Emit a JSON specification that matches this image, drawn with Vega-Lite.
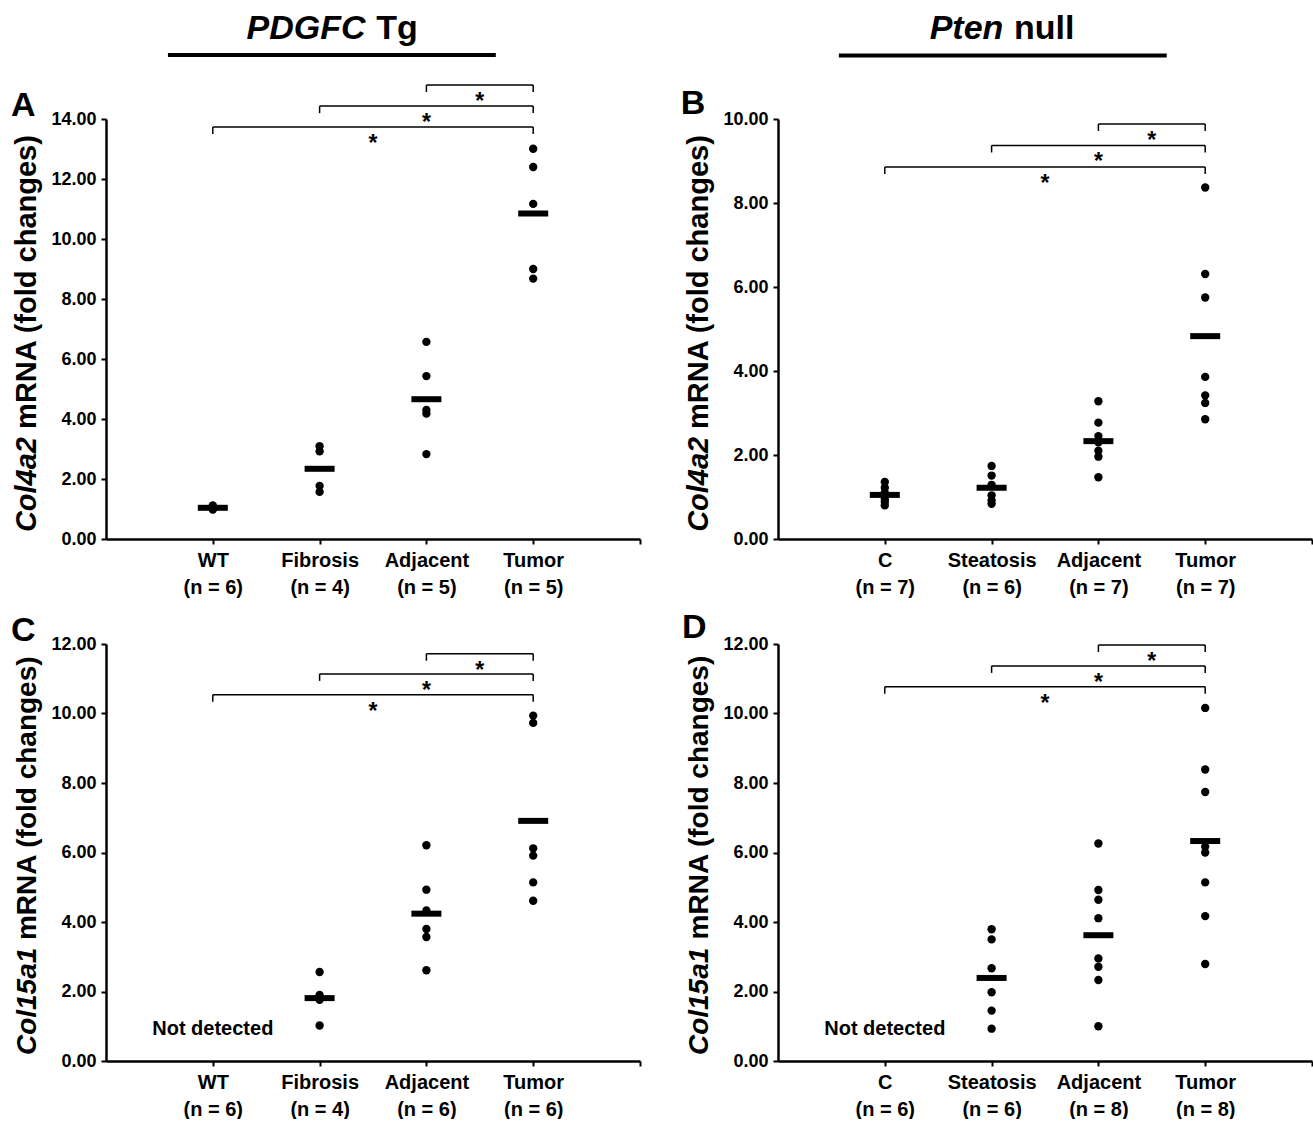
{
  "$schema": "https://vega.github.io/schema/vega-lite/v6.json",
  "background": "white",
  "padding": {"left": 10, "top": 11, "right": 0, "bottom": 0},
  "columns": 2,
  "spacing": {"row": 105, "column": 138},
  "bounds": "flush",
  "datasets": {
    "points": [
      {"p":"A","x":1,"y":1.12},{"p":"A","x":1,"y":1.08},{"p":"A","x":1,"y":1.05},{"p":"A","x":1,"y":1.02},{"p":"A","x":1,"y":1.0},{"p":"A","x":1,"y":0.98},
      {"p":"A","x":2,"y":3.09},{"p":"A","x":2,"y":2.92},{"p":"A","x":2,"y":1.77},{"p":"A","x":2,"y":1.57},
      {"p":"A","x":3,"y":6.57},{"p":"A","x":3,"y":5.43},{"p":"A","x":3,"y":4.3},{"p":"A","x":3,"y":4.18},{"p":"A","x":3,"y":2.83},
      {"p":"A","x":4,"y":13.01},{"p":"A","x":4,"y":12.4},{"p":"A","x":4,"y":11.17},{"p":"A","x":4,"y":9.0},{"p":"A","x":4,"y":8.68},
      {"p":"B","x":1,"y":1.36},{"p":"B","x":1,"y":1.22},{"p":"B","x":1,"y":1.1},{"p":"B","x":1,"y":1.02},{"p":"B","x":1,"y":0.95},{"p":"B","x":1,"y":0.88},{"p":"B","x":1,"y":0.8},
      {"p":"B","x":2,"y":1.74},{"p":"B","x":2,"y":1.51},{"p":"B","x":2,"y":1.29},{"p":"B","x":2,"y":1.04},{"p":"B","x":2,"y":0.92},{"p":"B","x":2,"y":0.84},
      {"p":"B","x":3,"y":3.28},{"p":"B","x":3,"y":2.77},{"p":"B","x":3,"y":2.45},{"p":"B","x":3,"y":2.3},{"p":"B","x":3,"y":2.1},{"p":"B","x":3,"y":1.96},{"p":"B","x":3,"y":1.47},
      {"p":"B","x":4,"y":8.37},{"p":"B","x":4,"y":6.31},{"p":"B","x":4,"y":5.75},{"p":"B","x":4,"y":3.86},{"p":"B","x":4,"y":3.42},{"p":"B","x":4,"y":3.24},{"p":"B","x":4,"y":2.85},
      {"p":"C","x":2,"y":2.56},{"p":"C","x":2,"y":1.9},{"p":"C","x":2,"y":1.76},{"p":"C","x":2,"y":1.02},
      {"p":"C","x":3,"y":6.21},{"p":"C","x":3,"y":4.93},{"p":"C","x":3,"y":4.33},{"p":"C","x":3,"y":3.8},{"p":"C","x":3,"y":3.57},{"p":"C","x":3,"y":2.61},
      {"p":"C","x":4,"y":9.94},{"p":"C","x":4,"y":9.73},{"p":"C","x":4,"y":6.12},{"p":"C","x":4,"y":5.91},{"p":"C","x":4,"y":5.14},{"p":"C","x":4,"y":4.61},
      {"p":"D","x":2,"y":3.79},{"p":"D","x":2,"y":3.5},{"p":"D","x":2,"y":2.67},{"p":"D","x":2,"y":1.98},{"p":"D","x":2,"y":1.45},{"p":"D","x":2,"y":0.93},
      {"p":"D","x":3,"y":6.26},{"p":"D","x":3,"y":4.92},{"p":"D","x":3,"y":4.64},{"p":"D","x":3,"y":4.11},{"p":"D","x":3,"y":2.95},{"p":"D","x":3,"y":2.71},{"p":"D","x":3,"y":2.33},{"p":"D","x":3,"y":1.0},
      {"p":"D","x":4,"y":10.16},{"p":"D","x":4,"y":8.39},{"p":"D","x":4,"y":7.74},{"p":"D","x":4,"y":6.17},{"p":"D","x":4,"y":6.0},{"p":"D","x":4,"y":5.14},{"p":"D","x":4,"y":4.17},{"p":"D","x":4,"y":2.79}
    ],
    "means": [
      {"p":"A","x":1,"y":1.04},{"p":"A","x":2,"y":2.34},{"p":"A","x":3,"y":4.66},{"p":"A","x":4,"y":10.85},
      {"p":"B","x":1,"y":1.05},{"p":"B","x":2,"y":1.22},{"p":"B","x":3,"y":2.33},{"p":"B","x":4,"y":4.83},
      {"p":"C","x":2,"y":1.81},{"p":"C","x":3,"y":4.24},{"p":"C","x":4,"y":6.91},
      {"p":"D","x":2,"y":2.39},{"p":"D","x":3,"y":3.62},{"p":"D","x":4,"y":6.33}
    ],
    "brackets": [
      {"p":"A","x":3,"x2":4,"y":15.13,"sx":3.5},{"p":"A","x":2,"x2":4,"y":14.43,"sx":3.0},{"p":"A","x":1,"x2":4,"y":13.73,"sx":2.5},
      {"p":"B","x":3,"x2":4,"y":9.88,"sx":3.5},{"p":"B","x":2,"x2":4,"y":9.37,"sx":3.0},{"p":"B","x":1,"x2":4,"y":8.86,"sx":2.5},
      {"p":"C","x":3,"x2":4,"y":11.72,"sx":3.5},{"p":"C","x":2,"x2":4,"y":11.14,"sx":3.0},{"p":"C","x":1,"x2":4,"y":10.54,"sx":2.5},
      {"p":"D","x":3,"x2":4,"y":11.97,"sx":3.5},{"p":"D","x":2,"x2":4,"y":11.37,"sx":3.0},{"p":"D","x":1,"x2":4,"y":10.77,"sx":2.5}
    ],
    "notes": [
      {"p":"A","part":"letter","x":-0.89,"y":14.1,"text":"A"},
      {"p":"B","part":"letter","x":-0.91,"y":10.12,"text":"B"},
      {"p":"C","part":"letter","x":-0.89,"y":12.09,"text":"C"},
      {"p":"D","part":"letter","x":-0.9,"y":12.18,"text":"D"},
      {"p":"A","part":"ytit","x":-0.66,"y":0.23,"text":"Col4a2"},
      {"p":"B","part":"ytit","x":-0.66,"y":0.17,"text":"Col4a2"},
      {"p":"C","part":"ytit","x":-0.66,"y":0.17,"text":"Col15a1"},
      {"p":"D","part":"ytit","x":-0.66,"y":0.17,"text":"Col15a1"},
      {"p":"A","part":"ytrm","x":-0.66,"y":3.67,"text":"mRNA (fold changes)"},
      {"p":"B","part":"ytrm","x":-0.66,"y":2.62,"text":"mRNA (fold changes)"},
      {"p":"C","part":"ytrm","x":-0.66,"y":3.48,"text":"mRNA (fold changes)"},
      {"p":"D","part":"ytrm","x":-0.66,"y":3.5,"text":"mRNA (fold changes)"},
      {"p":"A","part":"headit","x":2.43,"y":16.67,"text":"PDGFC"},
      {"p":"A","part":"headrm","x":2.53,"y":16.67,"text":"Tg"},
      {"p":"B","part":"headit","x":2.11,"y":11.9,"text":"Pten"},
      {"p":"B","part":"headrm","x":2.21,"y":11.9,"text":"null"},
      {"p":"C","part":"nd","x":1,"y":0.92,"text":"Not detected"},
      {"p":"D","part":"nd","x":1,"y":0.92,"text":"Not detected"}
    ],
    "underlines": [
      {"p":"A","x":0.58,"x2":3.65,"y":16.13},
      {"p":"B","x":0.57,"x2":3.64,"y":11.51}
    ]
  },
  "concat": [
    {
      "width": 534, "height": 420,
      "layer": [
        {"data":{"name":"points"},"transform":[{"filter":"datum.p=='A'"}],
         "mark":{"type":"circle","size":70,"color":"black","opacity":1},
         "encoding":{
           "x":{"field":"x","type":"quantitative","title":null,"scale":{"domain":[0,5]},
                "axis":{"values":[1,2,3,4,5],"labelExpr":"datum.value==1?['WT','(n = 6)']:datum.value==2?['Fibrosis','(n = 4)']:datum.value==3?['Adjacent','(n = 5)']:datum.value==4?['Tumor','(n = 5)']:''"}},
           "y":{"field":"y","type":"quantitative","title":null,"scale":{"domain":[0,14]},
                "axis":{"values":[0,2,4,6,8,10,12,14],"format":".2f"}}}},
        {"data":{"name":"means"},"transform":[{"filter":"datum.p=='A'"}],
         "mark":{"type":"tick","orient":"horizontal","size":30,"thickness":6,"color":"black","opacity":1},
         "encoding":{"x":{"field":"x","type":"quantitative","title":null},"y":{"field":"y","type":"quantitative","title":null}}},
        {"data":{"name":"brackets"},"transform":[{"filter":"datum.p=='A'"}],
         "mark":{"type":"rule","color":"black","strokeWidth":1.5},
         "encoding":{"x":{"field":"x","type":"quantitative","title":null},"x2":{"field":"x2"},"y":{"field":"y","type":"quantitative","title":null}}},
        {"data":{"name":"brackets"},"transform":[{"filter":"datum.p=='A'"}],
         "mark":{"type":"tick","orient":"vertical","size":7,"thickness":1.5,"yOffset":3.5,"color":"black","opacity":1},
         "encoding":{"x":{"field":"x","type":"quantitative","title":null},"y":{"field":"y","type":"quantitative","title":null}}},
        {"data":{"name":"brackets"},"transform":[{"filter":"datum.p=='A'"}],
         "mark":{"type":"tick","orient":"vertical","size":7,"thickness":1.5,"yOffset":3.5,"color":"black","opacity":1},
         "encoding":{"x":{"field":"x2","type":"quantitative","title":null},"y":{"field":"y","type":"quantitative","title":null}}},
        {"data":{"name":"brackets"},"transform":[{"filter":"datum.p=='A'"}],
         "mark":{"type":"text","text":"*","fontSize":23,"fontWeight":"bold","font":"Liberation Sans","baseline":"alphabetic","dy":24,"color":"black"},
         "encoding":{"x":{"field":"sx","type":"quantitative","title":null},"y":{"field":"y","type":"quantitative","title":null}}},
        {"data":{"name":"notes"},"transform":[{"filter":"datum.p=='A' && datum.part=='letter'"}],
         "mark":{"type":"text","fontSize":34,"fontWeight":"bold","font":"Liberation Sans","align":"left","baseline":"alphabetic","color":"black"},
         "encoding":{"x":{"field":"x","type":"quantitative","title":null},"y":{"field":"y","type":"quantitative","title":null},"text":{"field":"text"}}},
        {"data":{"name":"notes"},"transform":[{"filter":"datum.p=='A' && datum.part=='ytit'"}],
         "mark":{"type":"text","fontSize":29,"fontWeight":"bold","fontStyle":"italic","font":"Liberation Sans","align":"left","baseline":"alphabetic","angle":270,"color":"black"},
         "encoding":{"x":{"field":"x","type":"quantitative","title":null},"y":{"field":"y","type":"quantitative","title":null},"text":{"field":"text"}}},
        {"data":{"name":"notes"},"transform":[{"filter":"datum.p=='A' && datum.part=='ytrm'"}],
         "mark":{"type":"text","fontSize":29,"fontWeight":"bold","font":"Liberation Sans","align":"left","baseline":"alphabetic","angle":270,"color":"black"},
         "encoding":{"x":{"field":"x","type":"quantitative","title":null},"y":{"field":"y","type":"quantitative","title":null},"text":{"field":"text"}}},
        {"data":{"name":"notes"},"transform":[{"filter":"datum.p=='A' && datum.part=='headit'"}],
         "mark":{"type":"text","fontSize":34,"fontWeight":"bold","fontStyle":"italic","font":"Liberation Sans","align":"right","baseline":"alphabetic","color":"black"},
         "encoding":{"x":{"field":"x","type":"quantitative","title":null},"y":{"field":"y","type":"quantitative","title":null},"text":{"field":"text"}}},
        {"data":{"name":"notes"},"transform":[{"filter":"datum.p=='A' && datum.part=='headrm'"}],
         "mark":{"type":"text","fontSize":34,"fontWeight":"bold","font":"Liberation Sans","align":"left","baseline":"alphabetic","color":"black"},
         "encoding":{"x":{"field":"x","type":"quantitative","title":null},"y":{"field":"y","type":"quantitative","title":null},"text":{"field":"text"}}},
        {"data":{"name":"underlines"},"transform":[{"filter":"datum.p=='A'"}],
         "mark":{"type":"rule","color":"black","strokeWidth":4},
         "encoding":{"x":{"field":"x","type":"quantitative","title":null},"x2":{"field":"x2"},"y":{"field":"y","type":"quantitative","title":null}}}
      ]
    },
    {
      "width": 534, "height": 420,
      "layer": [
        {"data":{"name":"points"},"transform":[{"filter":"datum.p=='B'"}],
         "mark":{"type":"circle","size":70,"color":"black","opacity":1},
         "encoding":{
           "x":{"field":"x","type":"quantitative","title":null,"scale":{"domain":[0,5]},
                "axis":{"values":[1,2,3,4,5],"labelExpr":"datum.value==1?['C','(n = 7)']:datum.value==2?['Steatosis','(n = 6)']:datum.value==3?['Adjacent','(n = 7)']:datum.value==4?['Tumor','(n = 7)']:''"}},
           "y":{"field":"y","type":"quantitative","title":null,"scale":{"domain":[0,10]},
                "axis":{"values":[0,2,4,6,8,10],"format":".2f"}}}},
        {"data":{"name":"means"},"transform":[{"filter":"datum.p=='B'"}],
         "mark":{"type":"tick","orient":"horizontal","size":30,"thickness":6,"color":"black","opacity":1},
         "encoding":{"x":{"field":"x","type":"quantitative","title":null},"y":{"field":"y","type":"quantitative","title":null}}},
        {"data":{"name":"brackets"},"transform":[{"filter":"datum.p=='B'"}],
         "mark":{"type":"rule","color":"black","strokeWidth":1.5},
         "encoding":{"x":{"field":"x","type":"quantitative","title":null},"x2":{"field":"x2"},"y":{"field":"y","type":"quantitative","title":null}}},
        {"data":{"name":"brackets"},"transform":[{"filter":"datum.p=='B'"}],
         "mark":{"type":"tick","orient":"vertical","size":7,"thickness":1.5,"yOffset":3.5,"color":"black","opacity":1},
         "encoding":{"x":{"field":"x","type":"quantitative","title":null},"y":{"field":"y","type":"quantitative","title":null}}},
        {"data":{"name":"brackets"},"transform":[{"filter":"datum.p=='B'"}],
         "mark":{"type":"tick","orient":"vertical","size":7,"thickness":1.5,"yOffset":3.5,"color":"black","opacity":1},
         "encoding":{"x":{"field":"x2","type":"quantitative","title":null},"y":{"field":"y","type":"quantitative","title":null}}},
        {"data":{"name":"brackets"},"transform":[{"filter":"datum.p=='B'"}],
         "mark":{"type":"text","text":"*","fontSize":23,"fontWeight":"bold","font":"Liberation Sans","baseline":"alphabetic","dy":24,"color":"black"},
         "encoding":{"x":{"field":"sx","type":"quantitative","title":null},"y":{"field":"y","type":"quantitative","title":null}}},
        {"data":{"name":"notes"},"transform":[{"filter":"datum.p=='B' && datum.part=='letter'"}],
         "mark":{"type":"text","fontSize":34,"fontWeight":"bold","font":"Liberation Sans","align":"left","baseline":"alphabetic","color":"black"},
         "encoding":{"x":{"field":"x","type":"quantitative","title":null},"y":{"field":"y","type":"quantitative","title":null},"text":{"field":"text"}}},
        {"data":{"name":"notes"},"transform":[{"filter":"datum.p=='B' && datum.part=='ytit'"}],
         "mark":{"type":"text","fontSize":29,"fontWeight":"bold","fontStyle":"italic","font":"Liberation Sans","align":"left","baseline":"alphabetic","angle":270,"color":"black"},
         "encoding":{"x":{"field":"x","type":"quantitative","title":null},"y":{"field":"y","type":"quantitative","title":null},"text":{"field":"text"}}},
        {"data":{"name":"notes"},"transform":[{"filter":"datum.p=='B' && datum.part=='ytrm'"}],
         "mark":{"type":"text","fontSize":29,"fontWeight":"bold","font":"Liberation Sans","align":"left","baseline":"alphabetic","angle":270,"color":"black"},
         "encoding":{"x":{"field":"x","type":"quantitative","title":null},"y":{"field":"y","type":"quantitative","title":null},"text":{"field":"text"}}},
        {"data":{"name":"notes"},"transform":[{"filter":"datum.p=='B' && datum.part=='headit'"}],
         "mark":{"type":"text","fontSize":34,"fontWeight":"bold","fontStyle":"italic","font":"Liberation Sans","align":"right","baseline":"alphabetic","color":"black"},
         "encoding":{"x":{"field":"x","type":"quantitative","title":null},"y":{"field":"y","type":"quantitative","title":null},"text":{"field":"text"}}},
        {"data":{"name":"notes"},"transform":[{"filter":"datum.p=='B' && datum.part=='headrm'"}],
         "mark":{"type":"text","fontSize":34,"fontWeight":"bold","font":"Liberation Sans","align":"left","baseline":"alphabetic","color":"black"},
         "encoding":{"x":{"field":"x","type":"quantitative","title":null},"y":{"field":"y","type":"quantitative","title":null},"text":{"field":"text"}}},
        {"data":{"name":"underlines"},"transform":[{"filter":"datum.p=='B'"}],
         "mark":{"type":"rule","color":"black","strokeWidth":4},
         "encoding":{"x":{"field":"x","type":"quantitative","title":null},"x2":{"field":"x2"},"y":{"field":"y","type":"quantitative","title":null}}}
      ]
    },
    {
      "width": 534, "height": 417,
      "layer": [
        {"data":{"name":"points"},"transform":[{"filter":"datum.p=='C'"}],
         "mark":{"type":"circle","size":70,"color":"black","opacity":1},
         "encoding":{
           "x":{"field":"x","type":"quantitative","title":null,"scale":{"domain":[0,5]},
                "axis":{"values":[1,2,3,4,5],"labelExpr":"datum.value==1?['WT','(n = 6)']:datum.value==2?['Fibrosis','(n = 4)']:datum.value==3?['Adjacent','(n = 6)']:datum.value==4?['Tumor','(n = 6)']:''"}},
           "y":{"field":"y","type":"quantitative","title":null,"scale":{"domain":[0,12]},
                "axis":{"values":[0,2,4,6,8,10,12],"format":".2f"}}}},
        {"data":{"name":"means"},"transform":[{"filter":"datum.p=='C'"}],
         "mark":{"type":"tick","orient":"horizontal","size":30,"thickness":6,"color":"black","opacity":1},
         "encoding":{"x":{"field":"x","type":"quantitative","title":null},"y":{"field":"y","type":"quantitative","title":null}}},
        {"data":{"name":"brackets"},"transform":[{"filter":"datum.p=='C'"}],
         "mark":{"type":"rule","color":"black","strokeWidth":1.5},
         "encoding":{"x":{"field":"x","type":"quantitative","title":null},"x2":{"field":"x2"},"y":{"field":"y","type":"quantitative","title":null}}},
        {"data":{"name":"brackets"},"transform":[{"filter":"datum.p=='C'"}],
         "mark":{"type":"tick","orient":"vertical","size":7,"thickness":1.5,"yOffset":3.5,"color":"black","opacity":1},
         "encoding":{"x":{"field":"x","type":"quantitative","title":null},"y":{"field":"y","type":"quantitative","title":null}}},
        {"data":{"name":"brackets"},"transform":[{"filter":"datum.p=='C'"}],
         "mark":{"type":"tick","orient":"vertical","size":7,"thickness":1.5,"yOffset":3.5,"color":"black","opacity":1},
         "encoding":{"x":{"field":"x2","type":"quantitative","title":null},"y":{"field":"y","type":"quantitative","title":null}}},
        {"data":{"name":"brackets"},"transform":[{"filter":"datum.p=='C'"}],
         "mark":{"type":"text","text":"*","fontSize":23,"fontWeight":"bold","font":"Liberation Sans","baseline":"alphabetic","dy":24,"color":"black"},
         "encoding":{"x":{"field":"sx","type":"quantitative","title":null},"y":{"field":"y","type":"quantitative","title":null}}},
        {"data":{"name":"notes"},"transform":[{"filter":"datum.p=='C' && datum.part=='letter'"}],
         "mark":{"type":"text","fontSize":34,"fontWeight":"bold","font":"Liberation Sans","align":"left","baseline":"alphabetic","color":"black"},
         "encoding":{"x":{"field":"x","type":"quantitative","title":null},"y":{"field":"y","type":"quantitative","title":null},"text":{"field":"text"}}},
        {"data":{"name":"notes"},"transform":[{"filter":"datum.p=='C' && datum.part=='ytit'"}],
         "mark":{"type":"text","fontSize":28,"fontWeight":"bold","fontStyle":"italic","font":"Liberation Sans","align":"left","baseline":"alphabetic","angle":270,"color":"black"},
         "encoding":{"x":{"field":"x","type":"quantitative","title":null},"y":{"field":"y","type":"quantitative","title":null},"text":{"field":"text"}}},
        {"data":{"name":"notes"},"transform":[{"filter":"datum.p=='C' && datum.part=='ytrm'"}],
         "mark":{"type":"text","fontSize":28,"fontWeight":"bold","font":"Liberation Sans","align":"left","baseline":"alphabetic","angle":270,"color":"black"},
         "encoding":{"x":{"field":"x","type":"quantitative","title":null},"y":{"field":"y","type":"quantitative","title":null},"text":{"field":"text"}}},
        {"data":{"name":"notes"},"transform":[{"filter":"datum.p=='C' && datum.part=='nd'"}],
         "mark":{"type":"text","fontSize":20,"fontWeight":"bold","font":"Liberation Sans","align":"center","baseline":"middle","color":"black"},
         "encoding":{"x":{"field":"x","type":"quantitative","title":null},"y":{"field":"y","type":"quantitative","title":null},"text":{"field":"text"}}}
      ]
    },
    {
      "width": 534, "height": 417,
      "layer": [
        {"data":{"name":"points"},"transform":[{"filter":"datum.p=='D'"}],
         "mark":{"type":"circle","size":70,"color":"black","opacity":1},
         "encoding":{
           "x":{"field":"x","type":"quantitative","title":null,"scale":{"domain":[0,5]},
                "axis":{"values":[1,2,3,4,5],"labelExpr":"datum.value==1?['C','(n = 6)']:datum.value==2?['Steatosis','(n = 6)']:datum.value==3?['Adjacent','(n = 8)']:datum.value==4?['Tumor','(n = 8)']:''"}},
           "y":{"field":"y","type":"quantitative","title":null,"scale":{"domain":[0,12]},
                "axis":{"values":[0,2,4,6,8,10,12],"format":".2f"}}}},
        {"data":{"name":"means"},"transform":[{"filter":"datum.p=='D'"}],
         "mark":{"type":"tick","orient":"horizontal","size":30,"thickness":6,"color":"black","opacity":1},
         "encoding":{"x":{"field":"x","type":"quantitative","title":null},"y":{"field":"y","type":"quantitative","title":null}}},
        {"data":{"name":"brackets"},"transform":[{"filter":"datum.p=='D'"}],
         "mark":{"type":"rule","color":"black","strokeWidth":1.5},
         "encoding":{"x":{"field":"x","type":"quantitative","title":null},"x2":{"field":"x2"},"y":{"field":"y","type":"quantitative","title":null}}},
        {"data":{"name":"brackets"},"transform":[{"filter":"datum.p=='D'"}],
         "mark":{"type":"tick","orient":"vertical","size":7,"thickness":1.5,"yOffset":3.5,"color":"black","opacity":1},
         "encoding":{"x":{"field":"x","type":"quantitative","title":null},"y":{"field":"y","type":"quantitative","title":null}}},
        {"data":{"name":"brackets"},"transform":[{"filter":"datum.p=='D'"}],
         "mark":{"type":"tick","orient":"vertical","size":7,"thickness":1.5,"yOffset":3.5,"color":"black","opacity":1},
         "encoding":{"x":{"field":"x2","type":"quantitative","title":null},"y":{"field":"y","type":"quantitative","title":null}}},
        {"data":{"name":"brackets"},"transform":[{"filter":"datum.p=='D'"}],
         "mark":{"type":"text","text":"*","fontSize":23,"fontWeight":"bold","font":"Liberation Sans","baseline":"alphabetic","dy":24,"color":"black"},
         "encoding":{"x":{"field":"sx","type":"quantitative","title":null},"y":{"field":"y","type":"quantitative","title":null}}},
        {"data":{"name":"notes"},"transform":[{"filter":"datum.p=='D' && datum.part=='letter'"}],
         "mark":{"type":"text","fontSize":34,"fontWeight":"bold","font":"Liberation Sans","align":"left","baseline":"alphabetic","color":"black"},
         "encoding":{"x":{"field":"x","type":"quantitative","title":null},"y":{"field":"y","type":"quantitative","title":null},"text":{"field":"text"}}},
        {"data":{"name":"notes"},"transform":[{"filter":"datum.p=='D' && datum.part=='ytit'"}],
         "mark":{"type":"text","fontSize":28,"fontWeight":"bold","fontStyle":"italic","font":"Liberation Sans","align":"left","baseline":"alphabetic","angle":270,"color":"black"},
         "encoding":{"x":{"field":"x","type":"quantitative","title":null},"y":{"field":"y","type":"quantitative","title":null},"text":{"field":"text"}}},
        {"data":{"name":"notes"},"transform":[{"filter":"datum.p=='D' && datum.part=='ytrm'"}],
         "mark":{"type":"text","fontSize":28,"fontWeight":"bold","font":"Liberation Sans","align":"left","baseline":"alphabetic","angle":270,"color":"black"},
         "encoding":{"x":{"field":"x","type":"quantitative","title":null},"y":{"field":"y","type":"quantitative","title":null},"text":{"field":"text"}}},
        {"data":{"name":"notes"},"transform":[{"filter":"datum.p=='D' && datum.part=='nd'"}],
         "mark":{"type":"text","fontSize":20,"fontWeight":"bold","font":"Liberation Sans","align":"center","baseline":"middle","color":"black"},
         "encoding":{"x":{"field":"x","type":"quantitative","title":null},"y":{"field":"y","type":"quantitative","title":null},"text":{"field":"text"}}}
      ]
    }
  ],
  "config": {
    "view": {"stroke": null},
    "font": "Liberation Sans",
    "axis": {
      "grid": false,
      "domainColor": "black", "domainWidth": 2.5,
      "tickColor": "black", "tickWidth": 2, "tickSize": 5,
      "labelColor": "black", "labelFont": "Liberation Sans", "labelFontWeight": "bold",
      "labelOverlap": false, "labelFlush": false, "labelBound": false
    },
    "axisX": {"labelFontSize": 20, "labelPadding": 6, "labelLineHeight": 27, "labelAngle": 0},
    "axisY": {"labelFontSize": 18, "labelPadding": 5}
  }
}
